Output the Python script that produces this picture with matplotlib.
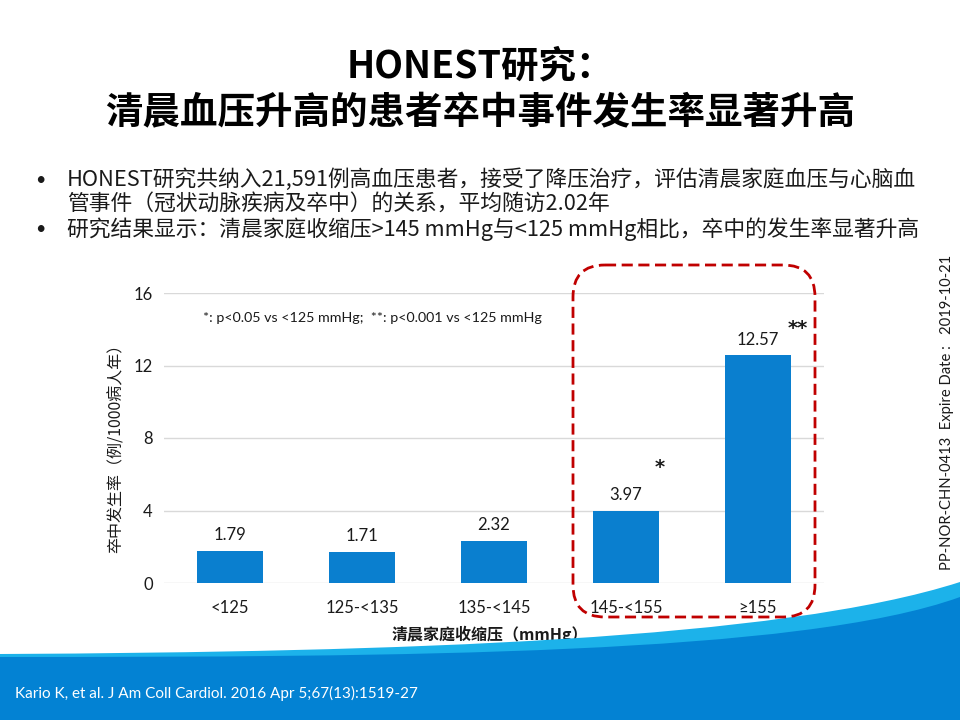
import matplotlib
matplotlib.use("Agg")
import matplotlib.pyplot as plt
from matplotlib.patches import FancyBboxPatch, PathPatch
from matplotlib.path import Path

# ---------------- data ----------------
categories = ["<125", "125-<135", "135-<145", "145-<155", "≥155"]
rates = [1.79, 1.71, 2.32, 3.97, 12.57]
yticks = [0, 4, 8, 12, 16]
sig_marks = ["", "", "", "*", "**"]

title_lines = ["HONEST研究：", "清晨血压升高的患者卒中事件发生率显著升高"]
bullet_lines = [
    ("•", "HONEST研究共纳入21,591例高血压患者，接受了降压治疗，评估清晨家庭血压与心脑血"),
    ("", "管事件（冠状动脉疾病及卒中）的关系，平均随访2.02年"),
    ("•", "研究结果显示：清晨家庭收缩压>145 mmHg与<125 mmHg相比，卒中的发生率显著升高"),
]
note_text = "*: p<0.05 vs <125 mmHg;  **: p<0.001 vs <125 mmHg"
ylabel = "卒中发生率（例/1000病人年）"
xlabel = "清晨家庭收缩压（mmHg）"
side_text = "PP-NOR-CHN-0413  Expire Date :   2019-10-21"
citation = "Kario K, et al. J Am Coll Cardiol. 2016 Apr 5;67(13):1519-27"

# ---------------- style ----------------
LAT = ["Lato", "Noto Sans CJK SC", "DejaVu Sans"]
CJK = ["Noto Sans CJK SC", "DejaVu Sans"]
plt.rcParams["font.family"] = LAT
BAR = "#0a7fcf"
DARK_BLUE = "#0382d3"
LIGHT_BLUE = "#1cb2ea"
RED = "#c00000"

W, H = 960, 720
fig = plt.figure(figsize=(9.6, 7.2), dpi=100)
fig.patch.set_facecolor("white")

def fx(px):
    return px / W

def fy(py):
    return 1 - py / H

# ---------------- chart ----------------
ax = fig.add_axes([fx(164), fy(583), 660 / W, 290 / H])
ax.set_facecolor("none")
x = list(range(len(categories)))
bars = ax.bar(x, rates, width=0.5, color=BAR, zorder=3)
ax.bar_label(bars, labels=[f"{v:.2f}" for v in rates], padding=5.5,
             fontsize=12, color="#1a1a1a")
ax.set_xlim(-0.5, len(categories) - 0.5)
ax.set_ylim(0, 16)
ax.set_yticks(yticks)
ax.set_yticklabels([str(t) for t in yticks])
ax.set_xticks(x)
ax.set_xticklabels(categories)
ax.tick_params(axis="both", length=0, labelsize=12, colors="#1a1a1a")
ax.tick_params(axis="y", pad=8)
ax.tick_params(axis="x", pad=12)
for s in ax.spines.values():
    s.set_visible(False)
ax.yaxis.grid(True, color="#d9d9d9", linewidth=1.0, zorder=0)
ax.set_axisbelow(True)

for i, (v, m) in enumerate(zip(rates, sig_marks)):
    if m:
        off = (24, 31) if len(m) == 1 else (29, 19)
        ax.annotate(m, xy=(i, v), xytext=off, textcoords="offset points",
                    ha="center", va="center", fontsize=14, fontweight="bold",
                    color="#1a1a1a", family=["DejaVu Sans"])

ax.text(1.08, 14.6, note_text, ha="center", va="center", fontsize=10.3,
        color="#1a1a1a")

fig.text(fx(116), fy(444), ylabel, rotation=90, ha="center", va="center",
         fontsize=11.5, family=CJK, color="#1a1a1a")
fig.text(fx(490), fy(634), xlabel, ha="center", va="center",
         fontsize=11.5, family=CJK, fontweight="bold", color="#1a1a1a")

# ---------------- overlay decorations ----------------
ov = fig.add_axes([0, 0, 1, 1], zorder=5)
ov.set_xlim(0, W)
ov.set_ylim(H, 0)
ov.set_facecolor("none")
ov.axis("off")

def wave(p0, p1, p2, p3):
    verts = [p0, p1, p2, p3, (W, H), (0, H), p0]
    codes = [Path.MOVETO, Path.CURVE4, Path.CURVE4, Path.CURVE4,
             Path.LINETO, Path.LINETO, Path.CLOSEPOLY]
    return Path(verts, codes)

ov.add_patch(PathPatch(wave((0, 654), (400, 652), (780, 640), (W, 582)),
                       facecolor=LIGHT_BLUE, edgecolor="none"))
ov.add_patch(PathPatch(wave((0, 657), (400, 657), (800, 655), (W, 597)),
                       facecolor=DARK_BLUE, edgecolor="none"))

box = FancyBboxPatch((573, 265), 815 - 573, 617 - 265,
                     boxstyle="round,pad=0,rounding_size=32",
                     facecolor="none", edgecolor=RED, linewidth=2.0,
                     linestyle=(0, (4, 2)))
ov.add_patch(box)

# ---------------- texts ----------------
fig.text(fx(480), fy(66), title_lines[0], ha="center", va="center",
         fontsize=27, fontweight="bold", family=CJK, color="black")
fig.text(fx(480), fy(113), title_lines[1], ha="center", va="center",
         fontsize=27, fontweight="bold", family=CJK, color="black")

for (b, t), y in zip(bullet_lines, [180, 204, 229]):
    if b:
        fig.text(fx(40), fy(y), b, ha="center", va="center", fontsize=13,
                 family=LAT, color="#1a1a1a")
    fig.text(fx(67), fy(y), t, ha="left", va="center", fontsize=15.7,
             family=CJK, color="#1a1a1a")

fig.text(fx(947), fy(412), side_text, rotation=90, ha="center", va="center",
         fontsize=10.6, color="#1a1a1a")
fig.text(fx(15), fy(693), citation, ha="left", va="center", fontsize=11,
         color="white", zorder=20)

fig.savefig("out.png", dpi=100, facecolor="white")
